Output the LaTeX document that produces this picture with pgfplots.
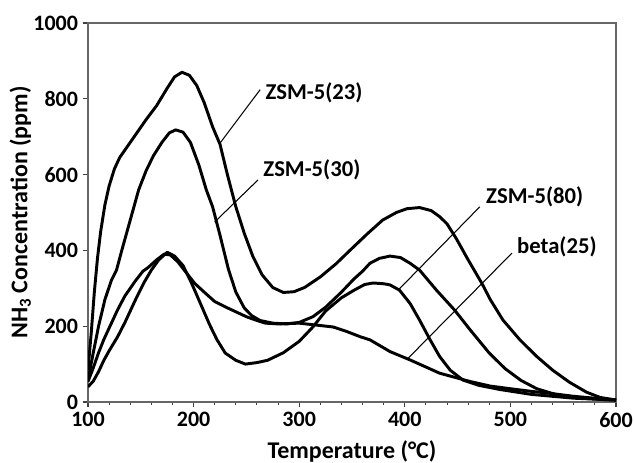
\documentclass[border=0pt]{standalone}
\usepackage{fontspec}
\setmainfont{Carlito}
\usepackage{pgfplots}
\pgfplotsset{compat=1.18}

\begin{document}
\begin{tikzpicture}
\begin{axis}[
    scale only axis,
    width=396pt, height=284.25pt,
    xmin=100, xmax=600, ymin=0, ymax=1000,
    xtick={100,200,...,600},
    ytick={0,200,...,1000},
    minor x tick num=4,
    tick pos=left,
    tick align=outside,
    major tick length=4pt,
    minor tick length=2.5pt,
    axis line style={draw=black!60, line width=0.8pt},
    tick style={draw=black!75, line width=0.8pt},
    /pgf/number format/assume math mode=true,
    /pgf/number format/set thousands separator={},
    tick label style={font=\fontsize{16.5}{18}\selectfont\bfseries},
    label style={font=\fontsize{18}{20}\selectfont\bfseries},
    xlabel={Temperature (°C)},
    ylabel={NH\textsubscript{3} Concentration (ppm)},
    xlabel style={at={(axis description cs:0.5,-0.13)}, anchor=center},
    ylabel style={at={(axis description cs:-0.128,0.5)}, anchor=center},
    every axis plot post/.append style={black, line width=2.2pt, line join=round},
    no markers,
]
\coordinate (sw) at (rel axis cs:0,0);
\coordinate (ne) at (rel axis cs:1,1);

% ZSM-5(23)
\addplot coordinates {
(100,85)(103,180)(106,290)(109,380)(112,450)(116,520)(120,570)(125,615)(130,645)(135,665)
(145,705)(155,745)(165,782)(175,828)(182,858)(189,870)(196,862)(203,835)(210,790)(218,726)
(225,680)(232,600)(240,515)(248,445)(256,385)(265,335)(275,302)(285,289)(295,291)(305,302)
(320,330)(335,365)(348,400)(365,445)(379,480)(392,500)(402,510)(414,513)(425,505)(433,489)
(440,470)(449,430)(460,375)(473,313)(481,270)(493,216)(509,164)(525,120)(540,84)(556,52)
(572,26)(585,12)(600,5)
};
% ZSM-5(30)
\addplot coordinates {
(100,58)(105,130)(110,200)(116,270)(122,320)(127,348)(132,400)(140,480)(148,560)(155,610)
(162,650)(170,685)(177,710)(183,718)(190,712)(197,685)(205,625)(212,560)(218,515)(225,440)
(233,350)(240,290)(248,248)(255,228)(263,215)(275,208)(288,206)(300,210)(313,225)(325,250)
(340,290)(352,325)(360,345)(367,366)(376,379)(386,385)(396,381)(405,366)(414,348)(430,295)
(447,243)(462,190)(480,129)(495,88)(510,57)(525,35)(545,18)(565,11)(585,7)(600,5)
};
% ZSM-5(80)
\addplot coordinates {
(100,40)(105,55)(110,80)(115,110)(120,135)(128,172)(135,210)(145,270)(153,315)(160,348)
(167,375)(175,395)(182,385)(190,360)(197,320)(201,295)(208,250)(215,205)(222,165)(230,129)
(240,110)(249,100)(260,104)(270,110)(285,130)(300,160)(313,198)(325,240)(340,275)(352,295)
(362,310)(370,314)(380,312)(386,309)(395,295)(405,260)(414,216)(424,164)(433,120)(443,84)
(455,58)(470,44)(490,33)(520,20)(560,10)(600,5)
};
% beta(25)
\addplot coordinates {
(100,54)(105,90)(110,130)(115,165)(120,195)(128,243)(135,280)(145,320)(152,345)(157,355)
(165,375)(172,390)(178,388)(185,370)(192,345)(201,313)(210,290)(220,265)(230,251)(240,238)
(250,225)(260,215)(268,208)(280,206)(290,207)(300,208)(316,203)(332,198)(345,186)(358,172)
(367,164)(386,133)(405,111)(433,76)(462,54)(481,42)(500,35)(520,28)(540,22)(560,15)
(580,10)(600,6)
};

\begin{scope}[font=\fontsize{17}{19}\selectfont\bfseries]
\node at (axis cs:314,815) {ZSM-5(23)};
\node at (axis cs:312,612) {ZSM-5(30)};
\node at (axis cs:523,541) {ZSM-5(80)};
\node at (axis cs:544,409) {beta(25)};
\end{scope}
\draw[line width=0.8pt] (axis cs:263,824) -- (axis cs:225,683);
\draw[line width=0.8pt] (axis cs:261,586) -- (axis cs:220,475);
\draw[line width=0.8pt] (axis cs:471,515) -- (axis cs:394,296);
\draw[line width=0.8pt] (axis cs:501.5,393) -- (axis cs:403,115);
\end{axis}
\pgfresetboundingbox
\path ([shift={(-66pt,-45.75pt)}]sw) rectangle ([shift={(13.5pt,17.25pt)}]ne);
\end{tikzpicture}
\end{document}
